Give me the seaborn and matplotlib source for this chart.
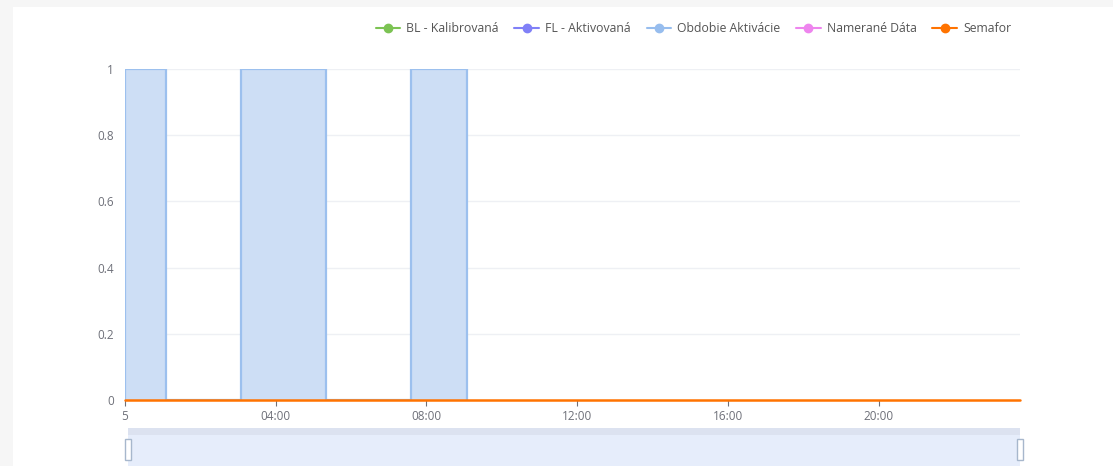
import numpy as np
import pandas as pd
import matplotlib
matplotlib.use("Agg")
import matplotlib.pyplot as plt
from matplotlib.lines import Line2D
from matplotlib.patches import Rectangle
import seaborn as sns

# activation periods (hours from midnight)
act_start = [0.0, 3.08, 7.58]
act_end = [1.1, 5.33, 9.08]
day_end = 23.75

series_names = ["BL - Kalibrovaná", "FL - Aktivovaná", "Obdobie Aktivácie",
                "Namerané Dáta", "Semafor"]
series_colors = ["#7cc353", "#8080f7", "#97bdee", "#ee85ee", "#ff7300"]

tick_hours = [0, 4, 8, 12, 16, 20]
tick_labels = ["5", "04:00", "08:00", "12:00", "16:00", "20:00"]
y_ticks = [0, 0.2, 0.4, 0.6, 0.8, 1]
y_labels = ["0", "0.2", "0.4", "0.6", "0.8", "1"]

# build step series for the activation band
t, v = [], []
for s, e in zip(act_start, act_end):
    t += [s, s, e, e]
    v += [0, 1, 1, 0]
act = pd.DataFrame({"t": t, "v": v})
sem = pd.DataFrame({"t": [0, day_end], "v": [0, 0]})

sns.set_style("white")
plt.rcParams["font.family"] = ["Open Sans", "DejaVu Sans"]

fig = plt.figure(figsize=(11.13, 4.66), dpi=100)
fig.patch.set_facecolor("#f6f6f6")
W, H = 1113, 466

# background layer: white panel + zoom slider
bg = fig.add_axes([0, 0, 1, 1])
bg.set_xlim(0, W)
bg.set_ylim(H, 0)
bg.axis("off")
bg.set_zorder(-1)
bg.add_patch(Rectangle((13, 7), W - 13, H, facecolor="white", edgecolor="none"))
zx0, zx1, zy0, zy1 = 128, 1020, 428, 466
bg.add_patch(Rectangle((zx0, zy0), zx1 - zx0, zy1 - zy0,
                       facecolor="#e6edfb", edgecolor="none"))
bg.add_patch(Rectangle((zx0, zy0), zx1 - zx0, 7,
                       facecolor="#dce2f0", edgecolor="none"))
for hx in [zx0, zx1]:
    bg.add_patch(Rectangle((hx - 3, 439), 6, 21, facecolor="white",
                           edgecolor="#a7b7cc", linewidth=1, zorder=3))

ax = fig.add_axes([125 / W, 1 - 400 / H, (1020 - 125) / W, (400 - 69) / H])
ax.set_facecolor("none")
ax.fill_between(act["t"], act["v"], color="#cddef5", linewidth=0, zorder=2)
sns.lineplot(data=act, x="t", y="v", ax=ax, color="#9cc0ee", linewidth=1.6,
             sort=False, estimator=None, zorder=3)
sns.lineplot(data=sem, x="t", y="v", ax=ax, color=series_colors[4],
             linewidth=1.8, estimator=None, zorder=5, clip_on=False)

ax.set_xlim(0, day_end)
ax.set_ylim(0, 1)
ax.set_xticks(tick_hours)
ax.set_xticklabels(tick_labels)
ax.set_yticks(y_ticks)
ax.set_yticklabels(y_labels)
ax.set_xlabel("")
ax.set_ylabel("")
for y in y_ticks[1:]:
    ax.axhline(y, color="#eef0f4", linewidth=1, zorder=1)
for sp in ["top", "right", "left", "bottom"]:
    ax.spines[sp].set_visible(False)
ax.tick_params(axis="y", length=0, labelsize=8.5, labelcolor="#6e7079", pad=8)
ax.tick_params(axis="x", length=4, color="#6e7079", labelsize=8.5,
               labelcolor="#6e7079", pad=3, bottom=True, direction="out")

# legend
handles = [Line2D([0], [0], color=c, marker="o", markersize=6, linewidth=1.5)
           for c in series_colors]
fig.legend(handles, series_names, loc="upper right",
           bbox_to_anchor=(1016 / W, 1 - 17 / H), ncol=5, frameon=False,
           fontsize=8.8, labelcolor="#555555", handlelength=2.0,
           handletextpad=0.5, columnspacing=1.3, borderaxespad=0)

fig.savefig("out.png", dpi=100, facecolor=fig.get_facecolor())
